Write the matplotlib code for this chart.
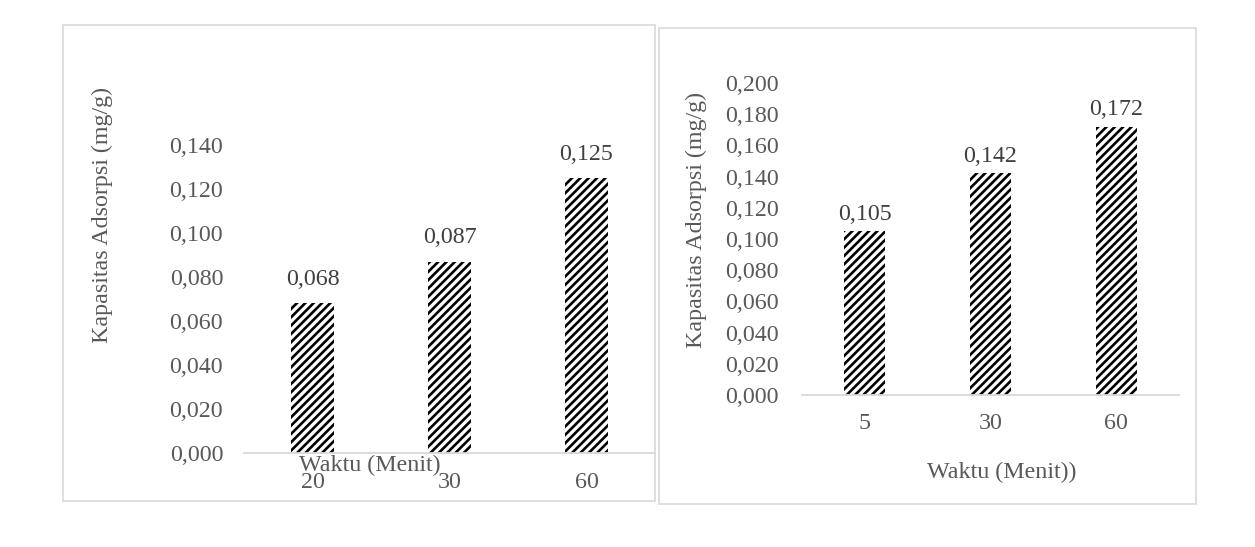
import matplotlib
matplotlib.use('Agg')
import matplotlib.pyplot as plt
from matplotlib.patches import Rectangle
from matplotlib.ticker import FuncFormatter, MultipleLocator

# data
waktu_kiri = ['20', '30', '60']
kapasitas_kiri = [0.068, 0.087, 0.125]
waktu_kanan = ['5', '30', '60']
kapasitas_kanan = [0.105, 0.142, 0.172]

plt.rcParams['font.family'] = ['Liberation Serif', 'DejaVu Serif']
plt.rcParams['hatch.linewidth'] = 1.9

W, H = 1255, 547
fig = plt.figure(figsize=(W / 100, H / 100), dpi=100)

abu = '#595959'
garis = '#d9d9d9'
fs = 17.3


def koma(v, pos=None):
    return f'{v:.3f}'.replace('.', ',')


def px_box(x0, y0, x1, y1):
    # pixel box (top-left origin) -> figure fraction rect
    return [x0 / W, 1 - y1 / H, (x1 - x0) / W, (y1 - y0) / H]


# panel borders
for x0, y0, x1, y1 in [(63, 24.5, 655, 501), (659, 27.7, 1196, 504)]:
    r = px_box(x0, y0, x1, y1)
    fig.patches.append(Rectangle((r[0], r[1]), r[2], r[3], transform=fig.transFigure,
                                 fill=False, edgecolor=garis, linewidth=1.2))


def gambar(ax, kategori, nilai, ymax, step, lebar, off_label, ypad, xpad):
    x = range(len(kategori))
    ax.bar(x, nilai, width=lebar, color='white', edgecolor='black',
           hatch='////', linewidth=0)
    ax.set_xlim(-0.5, len(kategori) - 0.5)
    ax.set_ylim(0, ymax)
    ax.yaxis.set_major_locator(MultipleLocator(step))
    ax.yaxis.set_major_formatter(FuncFormatter(koma))
    ax.set_xticks(list(x))
    ax.set_xticklabels(kategori)
    for s in ['top', 'right', 'left']:
        ax.spines[s].set_visible(False)
    ax.spines['bottom'].set_color(garis)
    ax.spines['bottom'].set_linewidth(1.3)
    ax.tick_params(axis='both', length=0, labelsize=fs, colors=abu)
    ax.tick_params(axis='y', pad=ypad)
    ax.tick_params(axis='x', pad=xpad)
    for xi, v in zip(x, nilai):
        ax.annotate(koma(v), (xi, v), xytext=(0, off_label), textcoords='offset pixels',
                    ha='center', va='center', fontsize=fs, color='#404040',
                    annotation_clip=False)


# kiri
ax1 = fig.add_axes(px_box(244, 145, 655, 453))
gambar(ax1, waktu_kiri, kapasitas_kiri, 0.14, 0.02, 0.315, 24, 15, 14)
ax1.set_xlabel('Waktu (Menit)', fontsize=fs, color=abu, ha='left', va='center')
ax1.xaxis.set_label_coords((299 - 244) / 411, (453 - 465) / 308)
ax1.set_ylabel('Kapasitas Adsorpsi (mg/g)', fontsize=fs, color=abu, va='center')
ax1.yaxis.set_label_coords((102 - 244) / 411, (453 - 215) / 308)

# kanan
ax2 = fig.add_axes(px_box(802, 83, 1179, 395))
gambar(ax2, waktu_kanan, kapasitas_kanan, 0.2, 0.02, 0.325, 17, 17, 13)
ax2.set_xlabel('Waktu (Menit))', fontsize=fs, color=abu, ha='center', va='center')
ax2.xaxis.set_label_coords((1002 - 802) / 377, (395 - 472) / 312)
ax2.set_ylabel('Kapasitas Adsorpsi (mg/g)', fontsize=fs, color=abu, va='center')
ax2.yaxis.set_label_coords((696 - 802) / 377, (395 - 220) / 312)

fig.savefig('out.png', dpi=100, facecolor='white')
